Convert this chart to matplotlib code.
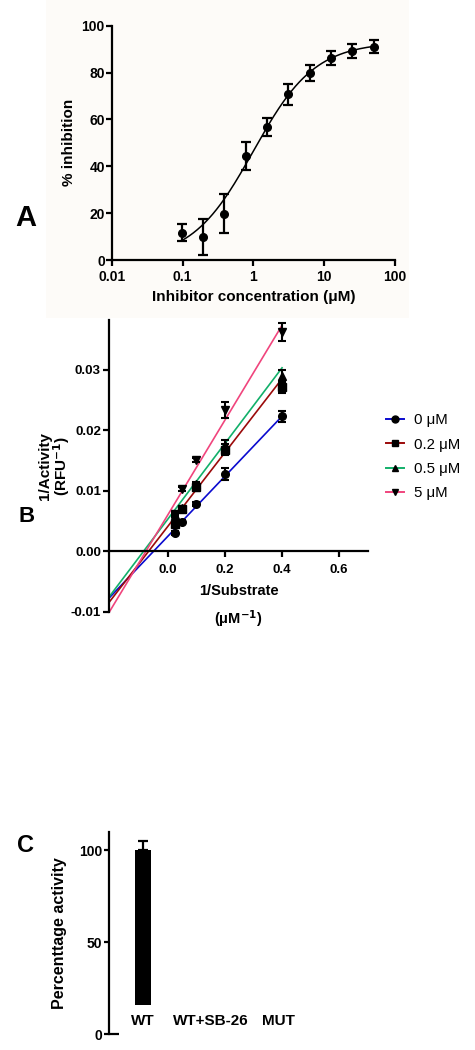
import numpy as np
import matplotlib
matplotlib.use("Agg")
import matplotlib.pyplot as plt
from matplotlib.lines import Line2D
from matplotlib.patches import Rectangle

plt.rcParams['font.family'] = ['Liberation Sans', 'DejaVu Sans']
plt.rcParams['font.weight'] = 'bold'
plt.rcParams['mathtext.default'] = 'regular'

# ---------------- Panel A data ----------------
conc_A = [0.0977, 0.195, 0.391, 0.781, 1.5625, 3.125, 6.25, 12.5, 25, 50]
inhib_A = [11.7, 9.8, 19.8, 44.2, 56.8, 70.7, 79.7, 86.3, 89.2, 91.0]
err_A = [3.5, 7.7, 8.2, 6.0, 3.7, 4.5, 3.5, 2.9, 2.8, 2.75]
# four-parameter logistic fit
fit_bottom, fit_top, fit_ic50, fit_hill = 0.0, 93.0, 1.0, 1.0

# ---------------- Panel B data ----------------
inv_substrate = [0.025, 0.05, 0.1, 0.2, 0.4]
series_labels = ['0 \u03bcM', '0.2 \u03bcM', '0.5 \u03bcM', '5 \u03bcM']
inv_act_0 = [0.0030, 0.0049, 0.0078, 0.0128, 0.0223]
inv_act_02 = [0.0045, 0.0069, 0.0106, 0.0168, 0.0272]
inv_act_05 = [0.0059, 0.0072, 0.0111, 0.0175, 0.0290]
inv_act_5 = [0.0062, 0.0103, 0.0151, 0.0233, 0.0362]
err_0 = [0.0003, 0.0003, 0.0003, 0.0010, 0.0009]
err_02 = [0.0003, 0.0004, 0.0007, 0.0009, 0.0010]
err_05 = [0.0003, 0.0003, 0.0004, 0.0008, 0.0010]
err_5 = [0.0003, 0.0003, 0.0003, 0.0013, 0.0015]
fit_slopes = [0.0496, 0.0610, 0.0625, 0.0783]
fit_intercepts = [0.00246, 0.0041, 0.0053, 0.0060]

# ---------------- Panel C data ----------------
groups_C = ['WT', 'WT+SB-26', 'MUT']
activity_C = [100, 0, 0]
err_C = [4.7, 0, 0]

W, H = 475, 1050
fig = plt.figure(figsize=(W / 100, H / 100), dpi=100)
fig.patch.set_facecolor('white')

def fx(px):
    return px / W

def fy(py):
    return 1 - py / H

# faint off-white background behind panel A
fig.patches.append(Rectangle((fx(46), fy(318)), fx(409) - fx(46), 318 / H,
                             transform=fig.transFigure, facecolor='#FDFBF8',
                             edgecolor='none', zorder=-10))

spine_lw = 1.6

# ================= Panel A =================
axA = fig.add_axes([fx(111.7), fy(260), fx(395) - fx(111.7), (260 - 25.7) / H])
axA.set_facecolor('none')
axA.set_xscale('log')
axA.set_xlim(0.01, 100)
axA.set_ylim(0, 100)
xs = np.logspace(np.log10(conc_A[0]), np.log10(conc_A[-1]), 300)
ys = fit_bottom + (fit_top - fit_bottom) / (1 + (fit_ic50 / xs) ** fit_hill)
axA.plot(xs, ys, color='black', lw=1.1)
axA.errorbar(conc_A, inhib_A, yerr=err_A, fmt='o', color='black', ms=5.5,
             elinewidth=1.6, capsize=3.3, capthick=1.6)
axA.set_xticks([0.01, 0.1, 1, 10, 100])
axA.set_xticklabels(['0.01', '0.1', '1', '10', '100'])
axA.xaxis.set_minor_locator(matplotlib.ticker.NullLocator())
axA.set_yticks([0, 20, 40, 60, 80, 100])
for s in ['top', 'right']:
    axA.spines[s].set_visible(False)
for s in ['left', 'bottom']:
    axA.spines[s].set_linewidth(spine_lw)
axA.tick_params(axis='both', width=spine_lw, length=4, labelsize=10)
axA.tick_params(axis='y', pad=1)
axA.tick_params(axis='x', pad=3.5)
axA.set_xlabel('Inhibitor concentration (\u03bcM)', fontsize=11, fontweight='bold', labelpad=4)
axA.set_ylabel('% inhibition', fontsize=11, fontweight='bold', labelpad=4)

# ================= Panel B =================
axB = fig.add_axes([fx(109.3), fy(611.7), fx(367.7) - fx(109.3), (611.7 - 320) / H])
axB.set_facecolor('none')
axB.set_xlim(-0.205, 0.70)
axB.set_ylim(-0.01, 0.0382)
colors_B = ['#0A0ACF', '#9B0A0A', '#12B06A', '#F0457D']
markers_B = ['o', 's', '^', 'v']
series_B = [inv_act_0, inv_act_02, inv_act_05, inv_act_5]
errs_B = [err_0, err_02, err_05, err_5]
xl = np.array([-0.205, 0.4])
for c, slope, icpt in zip(colors_B, fit_slopes, fit_intercepts):
    axB.plot(xl, slope * xl + icpt, color=c, lw=1.2, zorder=2, clip_on=False)
for vals, errs, m in zip(series_B, errs_B, markers_B):
    axB.errorbar(inv_substrate, vals, yerr=errs, fmt=m, color='black', ms=5.5,
                 elinewidth=1.5, capsize=2.6, capthick=1.5, zorder=3)
axB.spines['top'].set_visible(False)
axB.spines['right'].set_visible(False)
axB.spines['bottom'].set_position(('data', 0))
for s in ['left', 'bottom']:
    axB.spines[s].set_linewidth(spine_lw)
axB.set_xticks([0.0, 0.2, 0.4, 0.6])
axB.set_xticklabels(['0.0', '0.2', '0.4', '0.6'])
axB.set_yticks([-0.01, 0.0, 0.01, 0.02, 0.03])
axB.set_yticklabels(['-0.01', '0.00', '0.01', '0.02', '0.03'])
axB.tick_params(axis='both', width=spine_lw, length=4, labelsize=9.5)
axB.tick_params(axis='y', pad=2)
axB.tick_params(axis='x', pad=5)
axB.set_xlabel('1/Substrate\n(\u03bcM$^{\\mathbf{-1}}$)', fontsize=10.5, fontweight='bold',
               labelpad=6, linespacing=1.65)
axB.set_ylabel('1/Activity\n(RFU$^{\\mathbf{-1}}$)', fontsize=11, fontweight='bold',
               labelpad=-1, linespacing=0.95)
handles = [Line2D([0], [0], color=c, lw=1.4, marker=m, markerfacecolor='black',
                  markeredgecolor='black', ms=5)
           for c, m in zip(colors_B, markers_B)]
axB.legend(handles, series_labels, loc='upper left', bbox_to_anchor=(fx(386), fy(413)),
           bbox_transform=fig.transFigure, frameon=False, borderpad=0, borderaxespad=0,
           handlelength=1.2, handletextpad=0.7, labelspacing=0.7,
           prop={'size': 10.8, 'weight': 'normal'})

# ================= Panel C =================
axC = fig.add_axes([fx(109.3), fy(1034), fx(311.8) - fx(109.3), (1034 - 831.7) / H])
axC.set_facecolor('none')
axC.set_xlim(-0.5, 2.5)
axC.set_ylim(0, 110)
bar_bottom = 16
xpos = np.arange(len(groups_C))
heights = [max(v - bar_bottom, 0) for v in activity_C]
axC.bar(xpos, heights, bottom=bar_bottom, width=0.25, color='black')
axC.errorbar(xpos[:1], activity_C[:1], yerr=[[0], err_C[:1]], fmt='none',
             ecolor='black', elinewidth=1.6, capsize=3.5, capthick=1.6)
for s in ['top', 'right', 'bottom']:
    axC.spines[s].set_visible(False)
axC.spines['left'].set_linewidth(spine_lw)
axC.set_xticks([])
axC.set_yticks([0, 50, 100])
axC.tick_params(axis='y', width=spine_lw, length=3.5, labelsize=10, pad=1.5)
axC.plot([-0.5, -0.36], [0, 0], color='black', lw=spine_lw, clip_on=False,
         solid_capstyle='butt')
for xp, g in zip(xpos, groups_C):
    axC.text(xp, 7, g, ha='center', va='center', fontsize=11, fontweight='bold')
axC.set_ylabel('Percenttage activity', fontsize=11.5, fontweight='bold', labelpad=9)

# ---------------- Panel letters ----------------
letter_family = ['Liberation Sans Narrow', 'Liberation Sans', 'DejaVu Sans']
fig.text(fx(26), fy(218), 'A', fontsize=21, fontweight='bold', family=letter_family,
         ha='center', va='center')
fig.text(fx(27), fy(516), 'B', fontsize=16, fontweight='bold', family=letter_family,
         ha='center', va='center')
fig.text(fx(25), fy(845), 'C', fontsize=17, fontweight='bold', family=letter_family,
         ha='center', va='center')

fig.savefig('out.png', dpi=100)
